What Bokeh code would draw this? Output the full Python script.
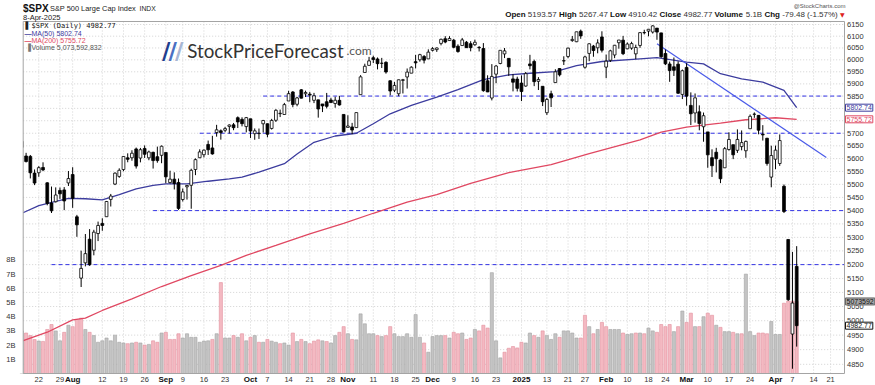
import math
import pandas as pd
from bokeh.plotting import figure
from bokeh.models import Range1d, LinearScale, Label, ColumnDataSource
from bokeh.embed import file_html
from bokeh.resources import INLINE

# ---------------- data ----------------
holidays = ["2024-09-02", "2024-11-28", "2024-12-25", "2025-01-01", "2025-01-09",
            "2025-01-20", "2025-02-17", "2025-04-18"]
prev_close = 5631.22

opens = [5644.09, 5610.07, 5608.56, 5543.37, 5544.81, 5565.30, 5505.84, 5428.70, 5433.67, 5476.55, 5478.73, 5505.59,
         5537.84, 5376.63, 5151.14, 5206.42, 5293.13, 5252.57, 5314.17, 5351.96, 5376.98, 5442.36, 5501.13, 5530.50,
         5557.23, 5602.88, 5603.09, 5637.77, 5602.01, 5639.66, 5602.89, 5624.51, 5607.30, 5612.74,
         5623.89, 5506.68, 5520.08, 5507.33, 5442.07, 5490.51, 5496.42, 5557.48, 5603.34, 5615.21, 5655.51, 5641.68,
         5702.63, 5709.60, 5711.90, 5727.23, 5733.65, 5762.22, 5755.36, 5726.52,
         5757.73, 5698.19, 5698.51, 5737.80, 5737.80, 5719.14, 5751.80, 5778.36, 5775.09, 5829.81, 5866.74, 5816.58,
         5875.62, 5859.43, 5857.82, 5832.70, 5834.50, 5817.80, 5826.75, 5833.93, 5819.68, 5832.65, 5775.34,
         5723.22, 5725.15, 5722.43, 5855.66, 5947.21, 5976.76, 6008.86, 6003.60, 5985.75, 5989.68, 5912.79, 5874.17,
         5859.71, 5914.55, 5928.63, 5944.36, 5992.28, 6000.03, 6014.11, 6003.98,
         6040.11, 6042.97, 6069.39, 6089.03, 6081.38, 6083.01, 6057.59, 6060.15, 6074.29, 6068.17, 6063.79, 6052.55,
         6047.65, 5912.71, 5842.00, 5940.25, 5984.63, 6024.97, 6006.17, 5920.67, 5919.74,
         5903.26, 5891.07, 5982.81, 5993.26, 5910.66, 5890.12, 5782.45, 5859.46, 5905.21, 5963.61, 5995.15, 6014.12,
         6081.39, 6076.33, 6121.43, 5969.04, 6026.97, 6057.70, 6050.75, 6096.79,
         5969.65, 5998.14, 6020.45, 6072.22, 6083.13, 6046.40, 6049.32, 6025.08, 6060.59, 6115.52, 6121.60, 6117.76,
         6134.50, 6114.10, 6026.69, 5982.73, 5970.87, 5981.88, 5856.74,
         5968.33, 5811.98, 5781.38, 5785.87, 5726.01, 5705.37, 5603.65, 5624.84, 5594.45, 5563.85, 5635.60, 5654.53,
         5632.37, 5646.92, 5630.73, 5718.08, 5775.86, 5771.66, 5695.64, 5679.99, 5527.91,
         5597.53, 5580.76, 5492.74, 5292.14, 4953.79, 5193.57]
highs = [5670.49, 5622.49, 5614.05, 5557.50, 5570.36, 5585.34, 5508.04, 5491.59, 5488.32, 5487.74, 5489.46, 5551.51,
         5566.16, 5383.89, 5250.89, 5312.34, 5330.64, 5328.03, 5358.66, 5371.20, 5436.50, 5463.22, 5546.23, 5561.98,
         5608.30, 5620.51, 5632.68, 5643.22, 5641.82, 5651.62, 5631.18, 5627.03, 5646.95, 5651.37,
         5623.89, 5552.74, 5546.30, 5522.47, 5484.20, 5497.91, 5560.41, 5600.71, 5636.27, 5636.05, 5670.81, 5689.75,
         5733.57, 5715.14, 5725.36, 5735.32, 5741.03, 5767.37, 5763.78, 5765.14,
         5757.73, 5719.14, 5718.78, 5753.39, 5739.34, 5757.60, 5796.80, 5795.03, 5822.13, 5871.41, 5870.36, 5846.52,
         5878.46, 5872.17, 5866.92, 5863.04, 5834.85, 5817.80, 5862.82, 5842.92, 5847.19, 5850.94, 5775.34,
         5772.02, 5741.43, 5783.44, 5936.14, 5983.84, 6012.45, 6017.31, 6009.92, 6008.19, 5993.88, 5915.19, 5908.12,
         5917.94, 5920.67, 5963.78, 5972.90, 6020.75, 6025.42, 6020.16, 6044.17,
         6053.58, 6052.07, 6089.84, 6099.97, 6099.97, 6088.51, 6065.40, 6092.59, 6079.68, 6078.58, 6085.19, 6057.68,
         6070.67, 5935.52, 5982.06, 5978.25, 6040.10, 6049.75, 6006.17, 5940.79, 5929.74,
         5935.09, 5949.34, 6021.04, 6000.68, 5927.89, 5890.12, 5842.23, 5871.92, 5960.61, 5964.69, 6014.96, 6051.51,
         6100.81, 6118.73, 6128.18, 6017.17, 6069.97, 6062.83, 6086.64, 6120.91,
         6022.13, 6042.48, 6062.86, 6084.03, 6101.28, 6073.38, 6076.28, 6063.94, 6116.91, 6127.47, 6129.63, 6147.43,
         6134.50, 6114.82, 6043.65, 5992.65, 6009.82, 5993.69, 5959.40,
         5986.09, 5865.08, 5860.59, 5812.08, 5783.01, 5705.37, 5636.30, 5642.19, 5597.78, 5645.27, 5703.52, 5654.53,
         5715.33, 5711.15, 5670.84, 5775.10, 5783.49, 5772.57, 5732.28, 5681.81, 5650.57,
         5650.97, 5695.31, 5499.53, 5292.14, 5246.57, 5267.47]
lows = [5614.05, 5584.81, 5522.81, 5497.04, 5529.04, 5550.90, 5419.98, 5390.95, 5430.70, 5444.44, 5401.76, 5493.75,
        5410.42, 5302.03, 5119.26, 5193.56, 5195.54, 5233.85, 5286.21, 5324.37, 5376.98, 5415.50, 5497.18, 5525.17,
        5550.74, 5585.50, 5591.57, 5560.95, 5585.16, 5602.34, 5593.48, 5560.95, 5583.71, 5581.79,
        5504.33, 5503.66, 5480.39, 5402.62, 5434.49, 5441.72, 5406.96, 5535.50, 5601.65, 5604.53, 5614.05, 5615.08,
        5686.42, 5674.49, 5704.22, 5698.99, 5712.06, 5721.01, 5727.34, 5703.53,
        5681.28, 5674.00, 5677.37, 5702.83, 5683.64, 5714.56, 5745.02, 5764.76, 5775.09, 5829.81, 5804.48, 5808.34,
        5840.25, 5846.11, 5824.87, 5821.17, 5762.41, 5784.92, 5799.98, 5823.08, 5802.55, 5811.28, 5703.72,
        5723.22, 5696.51, 5722.10, 5855.66, 5947.21, 5976.76, 5986.69, 5960.08, 5965.91, 5942.28, 5853.01, 5865.95,
        5849.69, 5860.63, 5880.78, 5944.36, 5963.91, 5992.27, 5984.87, 6003.98,
        6035.33, 6033.39, 6061.06, 6070.00, 6079.98, 6048.63, 6029.89, 6060.15, 6051.25, 6035.77, 6059.14, 6035.19,
        5867.79, 5866.07, 5832.30, 5902.57, 5981.44, 6007.37, 5932.95, 5869.16, 5868.86,
        5829.53, 5888.66, 5960.01, 5890.68, 5874.78, 5809.23, 5773.31, 5805.45, 5905.21, 5930.77, 5978.44, 6006.88,
        6076.00, 6074.67, 6088.74, 5962.92, 5994.33, 6012.96, 6027.46, 6030.93,
        5923.93, 5990.87, 6007.06, 6046.83, 6019.96, 6044.84, 6042.34, 6003.00, 6050.53, 6107.62, 6099.51, 6111.15,
        6084.59, 6008.56, 5977.83, 5908.49, 5932.69, 5858.78, 5837.66,
        5810.91, 5732.59, 5742.35, 5711.64, 5666.29, 5564.02, 5528.41, 5546.09, 5504.65, 5563.85, 5631.12, 5597.76,
        5622.20, 5632.33, 5603.10, 5718.08, 5761.65, 5695.66, 5670.94, 5572.42, 5488.73,
        5558.52, 5571.48, 5390.83, 5069.90, 4835.04, 4910.42]
closes = [5667.20, 5588.27, 5544.59, 5505.00, 5564.41, 5555.74, 5427.13, 5399.22, 5459.10, 5463.54, 5436.44, 5522.30,
          5446.68, 5346.56, 5186.33, 5240.03, 5199.50, 5319.31, 5344.16, 5344.39, 5434.43, 5455.21, 5543.22, 5554.25,
          5608.25, 5597.12, 5620.85, 5570.64, 5634.61, 5616.84, 5625.80, 5592.18, 5591.96, 5648.40,
          5528.93, 5520.07, 5503.41, 5408.42, 5471.05, 5495.52, 5554.13, 5595.76, 5626.02, 5633.09, 5634.58, 5618.26,
          5713.64, 5702.55, 5718.57, 5732.93, 5722.26, 5745.37, 5738.17, 5762.48,
          5708.75, 5709.54, 5699.94, 5751.07, 5695.94, 5751.13, 5792.04, 5780.05, 5815.03, 5859.85, 5815.26, 5842.47,
          5841.47, 5864.67, 5853.98, 5851.20, 5797.42, 5809.86, 5808.12, 5823.52, 5832.92, 5813.67, 5705.45,
          5728.80, 5712.69, 5782.76, 5929.04, 5973.10, 5995.54, 6001.35, 5983.99, 5985.38, 5949.17, 5870.62, 5893.62,
          5916.98, 5917.11, 5948.71, 5969.34, 5987.37, 6021.63, 5998.74, 6032.38,
          6047.15, 6049.88, 6086.49, 6075.11, 6090.27, 6052.85, 6034.91, 6084.19, 6051.25, 6051.09, 6074.08, 6050.61,
          5872.16, 5867.08, 5930.85, 5974.07, 6040.04, 6037.59, 5970.84, 5906.94, 5881.63,
          5868.55, 5942.47, 5975.38, 5909.03, 5918.25, 5827.04, 5836.22, 5842.91, 5949.91, 5937.34, 5996.66, 6049.24,
          6086.37, 6118.71, 6101.24, 6012.28, 6067.70, 6039.31, 6071.17, 6040.53,
          5994.57, 6037.88, 6061.48, 6083.57, 6025.99, 6066.44, 6068.50, 6051.97, 6115.07, 6114.63, 6129.58, 6144.15,
          6117.52, 6013.13, 5983.25, 5955.25, 5956.06, 5861.57, 5954.50,
          5849.72, 5778.15, 5842.63, 5738.52, 5770.20, 5614.56, 5572.07, 5599.30, 5521.52, 5638.94, 5675.12, 5614.66,
          5675.29, 5662.89, 5667.56, 5767.57, 5776.65, 5712.20, 5693.31, 5580.94, 5611.85,
          5633.07, 5670.97, 5396.52, 5074.08, 5062.25, 4982.77]
volume_b = [3.0, 2.85, 2.67, 2.39, 2.28, 2.26, 3.1, 3.45, 3.0, 2.3,
            2.9, 3.4, 3.3, 3.8, 3.9, 3.1, 2.9, 2.67, 2.2, 2.3,
            2.5, 2.3, 2.7, 2.2, 2.15, 2.1, 2.15, 2.2, 2.15, 2.0,
            2.05, 2.3, 2.2, 2.85, 2.9, 2.4, 2.4, 2.8, 2.5, 2.8,
            2.55, 2.55, 2.2, 2.28, 2.3, 2.4, 2.8, 6.4, 2.5, 2.5,
            2.67, 2.55, 2.8, 2.3, 2.55, 2.67, 2.2, 2.2, 2.4, 2.28,
            2.2, 2.1, 2.15, 2.0, 2.85, 2.25, 2.4, 2.25, 2.1, 2.28,
            2.37, 2.3, 2.25, 2.15, 2.67, 2.9, 3.3, 2.8, 2.4, 2.37,
            4.2, 3.5, 2.8, 2.8, 2.67, 2.6, 2.67, 3.3, 2.8, 2.6,
            2.6, 2.8, 2.55, 4.15, 2.55, 2.15, 1.5, 2.6, 2.67, 2.67,
            2.67, 2.5, 2.9, 2.8, 2.85, 2.4, 2.5, 3.1, 3.0, 3.4,
            3.2, 7.1, 2.3, 1.1, 1.5, 1.78, 1.9, 1.8, 2.2, 2.15,
            2.85, 2.67, 2.55, 3.0, 2.67, 2.4, 2.8, 2.55, 3.0, 3.0,
            2.85, 2.5, 2.5, 4.1, 3.3, 2.8, 3.1, 3.6, 3.3, 3.1,
            3.1, 3.1, 2.85, 2.75, 2.8, 2.85, 2.85, 2.8, 3.2, 3.0,
            2.9, 3.45, 3.3, 3.45, 2.95, 3.3, 4.4, 3.6, 4.25, 3.3,
            3.3, 4.0, 4.25, 4.1, 3.4, 3.25, 2.95, 2.95, 2.9, 2.8,
            2.8, 7.0, 2.95, 2.67, 2.85, 2.85, 2.8, 3.66, 2.75, 2.75,
            4.95, 5.1, 5.1, 5.073592832]

ma50_dates = ["2024-07-16", "2024-07-22", "2024-07-26", "2024-07-31", "2024-08-06", "2024-08-12", "2024-08-16",
              "2024-08-22", "2024-08-28", "2024-09-03", "2024-09-10", "2024-09-17", "2024-09-24", "2024-09-27",
              "2024-10-03", "2024-10-11", "2024-10-16", "2024-10-22", "2024-10-29", "2024-11-05", "2024-11-11",
              "2024-11-15", "2024-11-22", "2024-12-03", "2024-12-10", "2024-12-18", "2024-12-27", "2025-01-06",
              "2025-01-15", "2025-01-23", "2025-01-31", "2025-02-13", "2025-02-20", "2025-03-03", "2025-03-07",
              "2025-03-13", "2025-03-20", "2025-03-27", "2025-04-03", "2025-04-08"]
ma50_vals = [5390, 5419, 5435, 5446, 5445, 5441, 5461, 5483, 5496, 5502, 5502, 5512, 5521, 5528, 5547, 5580, 5618,
             5664, 5689, 5700, 5738, 5778, 5812, 5846, 5876, 5918, 5937, 5944, 5951, 5976, 5993, 6004, 6009, 5990,
             5983, 5942, 5921, 5907, 5873, 5802.74]
ma200_dates = ["2024-07-16", "2024-07-24", "2024-08-01", "2024-08-06", "2024-08-12", "2024-08-21", "2024-08-30",
               "2024-09-11", "2024-09-20", "2024-09-30", "2024-10-09", "2024-10-21", "2024-10-31", "2024-11-11",
               "2024-11-21", "2024-12-03", "2024-12-13", "2024-12-27", "2025-01-14", "2025-01-28", "2025-02-13",
               "2025-02-21", "2025-03-03", "2025-03-13", "2025-03-21", "2025-04-01", "2025-04-08"]
ma200_vals = [4929, 4960, 5003, 5009, 5036, 5077, 5121, 5160, 5197, 5234, 5270, 5313, 5352, 5390, 5432, 5461, 5504,
              5545, 5576, 5619, 5674, 5704, 5724, 5740, 5754, 5762, 5755.72]

level_prices = [5850, 5700, 5400, 5200]
level_start = ["2024-10-04", "2024-09-13", "2024-08-28", "2024-07-25"]
trend_dates = ["2025-02-20", "2025-04-17"]
trend_prices = [6068, 5604]

tick_dates = ["2024-07-22", "2024-07-29", "2024-08-01", "2024-08-12", "2024-08-19", "2024-08-26", "2024-09-03",
              "2024-09-09", "2024-09-16", "2024-09-23", "2024-10-01", "2024-10-07", "2024-10-14", "2024-10-21",
              "2024-10-28", "2024-11-01", "2024-11-11", "2024-11-18", "2024-11-25", "2024-12-02", "2024-12-09",
              "2024-12-16", "2024-12-23", "2025-01-02", "2025-01-13", "2025-01-21", "2025-01-27", "2025-02-03",
              "2025-02-10", "2025-02-18", "2025-02-24", "2025-03-03", "2025-03-10", "2025-03-17", "2025-03-24",
              "2025-04-01", "2025-04-07", "2025-04-14", "2025-04-21"]
tick_labels = ["22", "29", "Aug", "12", "19", "26", "Sep", "9", "16", "23", "Oct", "7", "14", "21", "28", "Nov",
               "11", "18", "25", "Dec", "9", "16", "23", "2025", "13", "21", "27", "Feb", "10", "18", "24", "Mar",
               "10", "17", "24", "Apr", "7", "14", "21"]
price_ticks = [4850, 4900, 4950, 5000, 5050, 5100, 5150, 5200, 5250, 5300, 5350, 5400, 5450, 5500, 5550, 5600,
               5650, 5700, 5750, 5800, 5850, 5900, 5950, 6000, 6050, 6100, 6150]
vol_ticks = [1, 2, 3, 4, 5, 6, 7, 8]

# ---------------- calendar (trading days) ----------------
cal = [d for d in pd.bdate_range("2024-07-16", "2025-04-25") if d.strftime("%Y-%m-%d") not in holidays]
pos = {d.strftime("%Y-%m-%d"): i for i, d in enumerate(cal)}
n = len(closes)
xs = list(range(n))

# ---------------- page geometry (pixels) ----------------
W, H = 875, 385
BOX_L, BOX_T, BOX_R, BOX_B = 22.7, 21.0, 844.0, 373.0   # chart panel
X_PX0, PX_DAY = 21.36, 4.234                            # pixel of day 0, pixels per day
P_REF, P_REF_Y, PX_LN = 6150.0, 24.0, 1431.0            # log price scale
V_PX = 14.2                                             # pixels per 1B of volume


def x_of(px):
    return (px - X_PX0) / PX_DAY


def p_of(py):
    return P_REF * math.exp((P_REF_Y - py) / PX_LN)


def v_of(py):
    return (BOX_B - py) / V_PX


p = figure(width=W, height=H, title=None,
           x_range=Range1d(x_of(0), x_of(W)), y_range=Range1d(p_of(H), p_of(0)),
           y_axis_type="log", x_axis_location=None, y_axis_location=None,
           output_backend="svg", toolbar_location=None,
           min_border_left=0, min_border_right=0, min_border_top=0, min_border_bottom=0)
p.extra_y_ranges = {"vol": Range1d(v_of(H), v_of(0))}
p.extra_y_scales = {"vol": LinearScale()}
p.outline_line_color = None
p.background_fill_color = "white"
p.border_fill_color = "white"
p.xgrid.visible = False
p.ygrid.visible = False

xL, xR = x_of(BOX_L), x_of(BOX_R)
pT, pB = p_of(BOX_T), p_of(BOX_B)
tick_pos = [pos[d] for d in tick_dates]

# ---------------- grid ----------------
GRID = dict(line_color="#d2d2d2", line_dash="1 2", line_width=1)
p.segment(x0=tick_pos, y0=[pB] * len(tick_pos), x1=tick_pos, y1=[pT] * len(tick_pos), **GRID)
p.segment(x0=[xL] * len(price_ticks), y0=price_ticks, x1=[xR] * len(price_ticks), y1=price_ticks, **GRID)

# ---------------- volume ----------------
prev = [prev_close] + closes[:-1]
down = [c < pc for c, pc in zip(closes, prev)]
vsrc = ColumnDataSource(dict(x=xs, v=volume_b,
                             fc=["#f4b9c2" if d else "#c4c4c4" for d in down],
                             lc=["#e3919d" if d else "#a2a2a2" for d in down]))
p.vbar(x="x", top="v", bottom=0, width=0.74, source=vsrc, y_range_name="vol",
       fill_color="fc", line_color="lc", line_width=0.6)

# ---------------- levels / MAs / trendline ----------------
p.segment(x0=[pos[d] for d in level_start], y0=level_prices, x1=[xR] * len(level_prices), y1=level_prices,
          line_color="#3434e6", line_dash="4 3", line_width=1)
p.line([pos[d] for d in ma200_dates], ma200_vals, line_color="#e04862", line_width=1.3)
p.line([pos[d] for d in ma50_dates], ma50_vals, line_color="#3c3c9e", line_width=1.3)
p.line([pos[d] for d in trend_dates], trend_prices, line_color="#4a5ae8", line_width=1.2)

# ---------------- candles ----------------
csrc = ColumnDataSource(dict(x=xs, hi=highs, lo=lows,
                             top=[max(o, c) for o, c in zip(opens, closes)],
                             bot=[min(o, c) for o, c in zip(opens, closes)],
                             fill=["white" if c >= o else "black" for o, c in zip(opens, closes)]))
p.segment(x0="x", y0="lo", x1="x", y1="hi", source=csrc, line_color="black", line_width=1)
p.vbar(x="x", top="top", bottom="bot", width=0.66, fill_color="fill", line_color="black",
       line_width=0.8, source=csrc)

# mask left of the panel, then the panel border
p.quad(left=[x_of(0)], right=[xL], top=[pT], bottom=[pB], fill_color="white", line_color=None)
p.quad(left=[xL], right=[xR], top=[pT], bottom=[pB], fill_color=None, line_color="#a4a4a4", line_width=1)


# ---------------- texts ----------------
def txt(xa, ya, s, size="7px", color="#000000", font="Liberation Sans", style="normal",
        align="left", baseline="middle"):
    p.add_layout(Label(x=xa, y=H - ya, x_units="screen", y_units="screen", text=s,
                       text_font_size=size, text_color=color, text_font=font, text_font_style=style,
                       text_align=align, text_baseline=baseline))


# x-axis labels (bold for months / year)
for tp, t in zip(tick_pos, tick_labels):
    bold = not (t.isdigit() and t != "2025")
    p.add_layout(Label(x=tp, y=H - 379, y_units="screen", text=t,
                       text_font_size="8px" if bold else "7.5px", text_font="Liberation Sans",
                       text_font_style="bold" if bold else "normal",
                       text_color="#111111" if bold else "#333333",
                       text_align="center", text_baseline="middle"))
# price axis labels (right)
for t in price_ticks:
    p.add_layout(Label(x=846.5, x_units="screen", y=t, text=str(t), text_font_size="7.5px",
                       text_font="Liberation Sans", text_color="#333333", text_baseline="middle"))
# volume axis labels (left)
for t in vol_ticks:
    p.add_layout(Label(x=15, x_units="screen", y=t, y_range_name="vol", text=f"{t}B", text_font_size="7.5px",
                       text_font="Liberation Sans", text_color="#333333", text_align="right",
                       text_baseline="middle"))

# header
txt(22.5, 7.5, "$SPX", size="10px", style="bold", color="#111111")
txt(49.5, 8, "S&P 500 Large Cap Index", size="7.4px", color="#222222")
txt(139, 8, "INDX", size="6.8px", color="#222222")
txt(22.5, 16.5, "8-Apr-2025", size="7.5px", color="#222222")
txt(845, 5, "@StockCharts.com", size="6px", color="#555555", align="right")

W_REG = {"0": .556, "1": .556, "2": .556, "3": .556, "4": .556, "5": .556, "6": .556, "7": .556, "8": .556,
         "9": .556, ".": .278, ",": .278, " ": .278, "(": .333, ")": .333, "-": .333, "%": .889, "B": .667}
W_BOLD = {"O": .778, "p": .611, "e": .556, "n": .611, "H": .722, "i": .278, "g": .611, "h": .611, "L": .611,
          "o": .611, "w": .778, "C": .722, "l": .278, "s": .556, "V": .667, "u": .611, "m": .889}
pieces = [("Open", True), (" 5193.57 ", False), ("High", True), (" 5267.47 ", False), ("Low", True),
          (" 4910.42 ", False), ("Close", True), (" 4982.77 ", False), ("Volume", True), (" 5.1B ", False),
          ("Chg", True), (" -79.48 (-1.57%) ", False)]
FS = 8.0
widths = [sum((W_BOLD if b else W_REG).get(ch, .6) for ch in s) * FS for s, b in pieces]
xcur = 839.5 - sum(widths)
for (s, b), w in zip(pieces, widths):
    lead = (W_REG[" "] * FS) if s.startswith(" ") else 0
    txt(xcur + lead, 14, s.strip(), size="8px", style="bold" if b else "normal",
        color="#111111" if b else "#333333")
    xcur += w
txt(xcur, 14, "\u25BC", size="6px", color="#dd2222", font="DejaVu Sans")

# legend inside the panel
txt(25, 25, "\u258C", size="7px", color="#222222", font="DejaVu Sans")
txt(31, 25, "$SPX (Daily) 4982.77", size="7px", color="#111111", font="DejaVu Sans Mono")
txt(24, 32.5, "\u2014", size="7px", color="#3c3c9e", style="bold")
txt(31, 32.5, "MA(50) 5802.74", size="7px", color="#3c3c9e")
txt(24, 40, "\u2014", size="7px", color="#e04862", style="bold")
txt(31, 40, "MA(200) 5755.72", size="7px", color="#e04862")
txt(25, 47, "\u2590", size="7px", color="#777777", font="DejaVu Sans")
txt(31, 47, "Volume 5,073,592,832", size="7px", color="#555555")

# logo
for xx, col in zip([161.5, 168, 174.5], ["#1f3e8e", "#4a6fc2", "#a8b6d4"]):
    txt(xx, 50, "/", size="23px", color=col, font="DejaVu Sans", style="bold", baseline="alphabetic")
txt(186.7, 49.5, "StockPriceForecast", size="18.8px", color="#333333", font="Lato", baseline="alphabetic")
txt(346, 49.5, ".com", size="12px", color="#555555", font="Lato", baseline="alphabetic")

# right-hand value tags
TAG = dict(x=845, x_units="screen", text_font_size="7px", text_font="Liberation Sans",
           text_baseline="middle", padding=1)
p.add_layout(Label(y=5802.74, text="5802.74", text_color="#3c3c9e", background_fill_color="white",
                   border_line_color="#3c3c9e", **TAG))
p.add_layout(Label(y=5755.72, text="5755.72", text_color="#e04862", background_fill_color="white",
                   border_line_color="#e04862", **TAG))
p.add_layout(Label(y=5.073592832, y_range_name="vol", text="5073592", text_color="#111111",
                   background_fill_color="#a8a8a8", border_line_color="#666666", **TAG))
p.add_layout(Label(y=4982.77, text="4982.77", text_color="#111111", background_fill_color="white",
                   border_line_color="#111111", **TAG))

open("out.html", "w").write(file_html(p, INLINE))
